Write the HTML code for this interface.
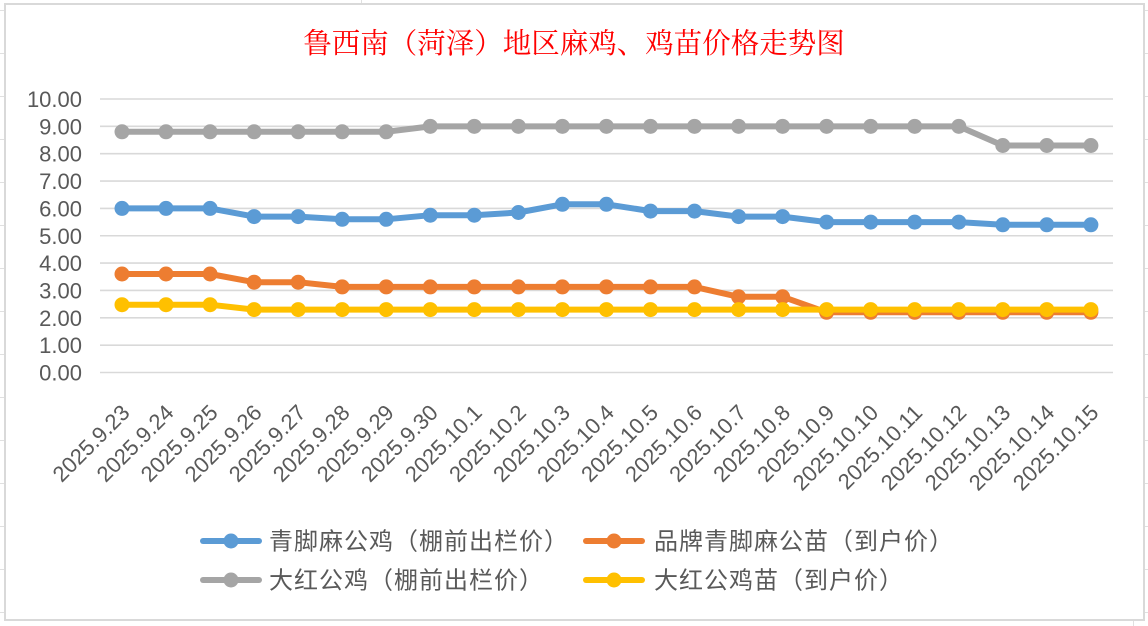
<!DOCTYPE html>
<html>
<head>
<meta charset="utf-8">
<style>
  html,body{margin:0;padding:0;background:#fff;}
  body{width:1148px;height:626px;overflow:hidden;}
  svg{display:block;}
  .ax{font-family:"Liberation Sans","Noto Sans CJK SC",sans-serif;font-size:22px;fill:#595959;}
  .lg{font-family:"Liberation Sans","Noto Sans CJK SC",sans-serif;font-size:24px;fill:#595959;letter-spacing:1px;}
  .tt{font-family:"Liberation Serif","Noto Serif CJK SC",serif;font-size:28.5px;fill:#ff0000;}
</style>
</head>
<body>
<svg width="1148" height="626" viewBox="0 0 1148 626" xmlns="http://www.w3.org/2000/svg">
  <defs>
    <marker id="mb" markerUnits="userSpaceOnUse" markerWidth="18" markerHeight="18" refX="9" refY="9"><circle cx="9" cy="9" r="7.5" fill="#5B9BD5"/></marker>
    <marker id="mo" markerUnits="userSpaceOnUse" markerWidth="18" markerHeight="18" refX="9" refY="9"><circle cx="9" cy="9" r="7.5" fill="#ED7D31"/></marker>
    <marker id="mg" markerUnits="userSpaceOnUse" markerWidth="18" markerHeight="18" refX="9" refY="9"><circle cx="9" cy="9" r="7.5" fill="#A5A5A5"/></marker>
    <marker id="my" markerUnits="userSpaceOnUse" markerWidth="18" markerHeight="18" refX="9" refY="9"><circle cx="9" cy="9" r="7.5" fill="#FFC000"/></marker>
  </defs>

  <g stroke="#e0e0e0" stroke-width="1">
    <line x1="0" y1="10.5" x2="4" y2="10.5"/><line x1="0" y1="53.5" x2="4" y2="53.5"/>
    <line x1="0" y1="96.5" x2="4" y2="96.5"/><line x1="0" y1="139.5" x2="4" y2="139.5"/>
    <line x1="0" y1="182.5" x2="4" y2="182.5"/><line x1="0" y1="225.5" x2="4" y2="225.5"/>
    <line x1="0" y1="268.5" x2="4" y2="268.5"/><line x1="0" y1="311.5" x2="4" y2="311.5"/>
    <line x1="0" y1="354.5" x2="4" y2="354.5"/><line x1="0" y1="397.5" x2="4" y2="397.5"/>
    <line x1="0" y1="440.5" x2="4" y2="440.5"/><line x1="0" y1="483.5" x2="4" y2="483.5"/>
    <line x1="0" y1="526.5" x2="4" y2="526.5"/><line x1="0" y1="569.5" x2="4" y2="569.5"/>
    <line x1="0" y1="612.5" x2="4" y2="612.5"/>
    <line x1="1145" y1="10.5" x2="1148" y2="10.5"/><line x1="1145" y1="53.5" x2="1148" y2="53.5"/>
    <line x1="1145" y1="96.5" x2="1148" y2="96.5"/><line x1="1145" y1="139.5" x2="1148" y2="139.5"/>
    <line x1="1145" y1="182.5" x2="1148" y2="182.5"/><line x1="1145" y1="225.5" x2="1148" y2="225.5"/>
    <line x1="1145" y1="268.5" x2="1148" y2="268.5"/><line x1="1145" y1="311.5" x2="1148" y2="311.5"/>
    <line x1="1145" y1="354.5" x2="1148" y2="354.5"/><line x1="1145" y1="397.5" x2="1148" y2="397.5"/>
    <line x1="1145" y1="440.5" x2="1148" y2="440.5"/><line x1="1145" y1="483.5" x2="1148" y2="483.5"/>
    <line x1="1145" y1="526.5" x2="1148" y2="526.5"/><line x1="1145" y1="569.5" x2="1148" y2="569.5"/>
    <line x1="1145" y1="612.5" x2="1148" y2="612.5"/>
    <line x1="361.5" y1="0" x2="361.5" y2="3"/>
    <line x1="1133.5" y1="621" x2="1133.5" y2="626"/>
  </g>

  <rect x="5" y="4" width="1139" height="616" fill="#ffffff" stroke="#d9d9d9" stroke-width="2"/>

  <text class="tt" x="574" y="53" text-anchor="middle">鲁西南（菏泽）地区麻鸡、鸡苗价格走势图</text>

  <g stroke="#d9d9d9" stroke-width="1.6">
    <line x1="100" y1="99" x2="1113" y2="99"/>
    <line x1="100" y1="126.35" x2="1113" y2="126.35"/>
    <line x1="100" y1="153.7" x2="1113" y2="153.7"/>
    <line x1="100" y1="181.05" x2="1113" y2="181.05"/>
    <line x1="100" y1="208.4" x2="1113" y2="208.4"/>
    <line x1="100" y1="235.75" x2="1113" y2="235.75"/>
    <line x1="100" y1="263.1" x2="1113" y2="263.1"/>
    <line x1="100" y1="290.45" x2="1113" y2="290.45"/>
    <line x1="100" y1="317.8" x2="1113" y2="317.8"/>
    <line x1="100" y1="345.15" x2="1113" y2="345.15"/>
    <line x1="100" y1="372.5" x2="1113" y2="372.5"/>
  </g>

  <g class="ax" text-anchor="end">
    <text x="82" y="107">10.00</text>
    <text x="82" y="134.35">9.00</text>
    <text x="82" y="161.7">8.00</text>
    <text x="82" y="189.05">7.00</text>
    <text x="82" y="216.4">6.00</text>
    <text x="82" y="243.75">5.00</text>
    <text x="82" y="271.1">4.00</text>
    <text x="82" y="298.45">3.00</text>
    <text x="82" y="325.8">2.00</text>
    <text x="82" y="353.15">1.00</text>
    <text x="82" y="380.5">0.00</text>
  </g>

  <g class="ax" text-anchor="end">
    <text transform="translate(131,414) rotate(-45)">2025.9.23</text>
    <text transform="translate(175,414) rotate(-45)">2025.9.24</text>
    <text transform="translate(219.1,414) rotate(-45)">2025.9.25</text>
    <text transform="translate(263.1,414) rotate(-45)">2025.9.26</text>
    <text transform="translate(307.2,414) rotate(-45)">2025.9.27</text>
    <text transform="translate(351.2,414) rotate(-45)">2025.9.28</text>
    <text transform="translate(395.2,414) rotate(-45)">2025.9.29</text>
    <text transform="translate(439.3,414) rotate(-45)">2025.9.30</text>
    <text transform="translate(483.3,414) rotate(-45)">2025.10.1</text>
    <text transform="translate(527.4,414) rotate(-45)">2025.10.2</text>
    <text transform="translate(571.4,414) rotate(-45)">2025.10.3</text>
    <text transform="translate(615.4,414) rotate(-45)">2025.10.4</text>
    <text transform="translate(659.5,414) rotate(-45)">2025.10.5</text>
    <text transform="translate(703.5,414) rotate(-45)">2025.10.6</text>
    <text transform="translate(747.6,414) rotate(-45)">2025.10.7</text>
    <text transform="translate(791.6,414) rotate(-45)">2025.10.8</text>
    <text transform="translate(835.6,414) rotate(-45)">2025.10.9</text>
    <text transform="translate(879.7,414) rotate(-45)">2025.10.10</text>
    <text transform="translate(923.7,414) rotate(-45)">2025.10.11</text>
    <text transform="translate(967.8,414) rotate(-45)">2025.10.12</text>
    <text transform="translate(1011.8,414) rotate(-45)">2025.10.13</text>
    <text transform="translate(1055.8,414) rotate(-45)">2025.10.14</text>
    <text transform="translate(1099.9,414) rotate(-45)">2025.10.15</text>
  </g>

  <g fill="none" stroke-width="6" stroke-linejoin="round" stroke-linecap="round">
    <polyline stroke="#5B9BD5" marker-start="url(#mb)" marker-mid="url(#mb)" marker-end="url(#mb)"
      points="122,208.4 166,208.4 210.1,208.4 254.1,216.6 298.2,216.6 342.2,219.3 386.2,219.3 430.3,215.2 474.3,215.2 518.4,212.5 562.4,204.3 606.4,204.3 650.5,211.1 694.5,211.1 738.6,216.6 782.6,216.6 826.6,222.1 870.7,222.1 914.7,222.1 958.8,222.1 1002.8,224.8 1046.8,224.8 1090.9,224.8"/>
    <polyline stroke="#ED7D31" marker-start="url(#mo)" marker-mid="url(#mo)" marker-end="url(#mo)"
      points="122,274 166,274 210.1,274 254.1,282.2 298.2,282.2 342.2,286.9 386.2,286.9 430.3,286.9 474.3,286.9 518.4,286.9 562.4,286.9 606.4,286.9 650.5,286.9 694.5,286.9 738.6,296.8 782.6,296.8 826.6,312.3 870.7,312.3 914.7,312.3 958.8,312.3 1002.8,312.3 1046.8,312.3 1090.9,312.3"/>
    <polyline stroke="#A5A5A5" marker-start="url(#mg)" marker-mid="url(#mg)" marker-end="url(#mg)"
      points="122,131.8 166,131.8 210.1,131.8 254.1,131.8 298.2,131.8 342.2,131.8 386.2,131.8 430.3,126.35 474.3,126.35 518.4,126.35 562.4,126.35 606.4,126.35 650.5,126.35 694.5,126.35 738.6,126.35 782.6,126.35 826.6,126.35 870.7,126.35 914.7,126.35 958.8,126.35 1002.8,145.5 1046.8,145.5 1090.9,145.5"/>
    <polyline stroke="#FFC000" marker-start="url(#my)" marker-mid="url(#my)" marker-end="url(#my)"
      points="122,304.7 166,304.7 210.1,304.7 254.1,309.6 298.2,309.6 342.2,309.6 386.2,309.6 430.3,309.6 474.3,309.6 518.4,309.6 562.4,309.6 606.4,309.6 650.5,309.6 694.5,309.6 738.6,309.6 782.6,309.6 826.6,309.6 870.7,309.6 914.7,309.6 958.8,309.6 1002.8,309.6 1046.8,309.6 1090.9,309.6"/>
  </g>

  <g stroke-width="6" stroke-linecap="round">
    <line x1="203" y1="541" x2="259" y2="541" stroke="#5B9BD5"/>
    <circle cx="231" cy="541" r="7.5" fill="#5B9BD5"/>
    <line x1="586" y1="541" x2="642" y2="541" stroke="#ED7D31"/>
    <circle cx="614" cy="541" r="7.5" fill="#ED7D31"/>
    <line x1="203" y1="580" x2="259" y2="580" stroke="#A5A5A5"/>
    <circle cx="231" cy="580" r="7.5" fill="#A5A5A5"/>
    <line x1="586" y1="580" x2="642" y2="580" stroke="#FFC000"/>
    <circle cx="614" cy="580" r="7.5" fill="#FFC000"/>
  </g>
  <g class="lg">
    <text x="269" y="549.5">青脚麻公鸡（棚前出栏价）</text>
    <text x="654" y="549.5">品牌青脚麻公苗（到户价）</text>
    <text x="269" y="588.5">大红公鸡（棚前出栏价）</text>
    <text x="654" y="588.5">大红公鸡苗（到户价）</text>
  </g>
</svg>
</body>
</html>
